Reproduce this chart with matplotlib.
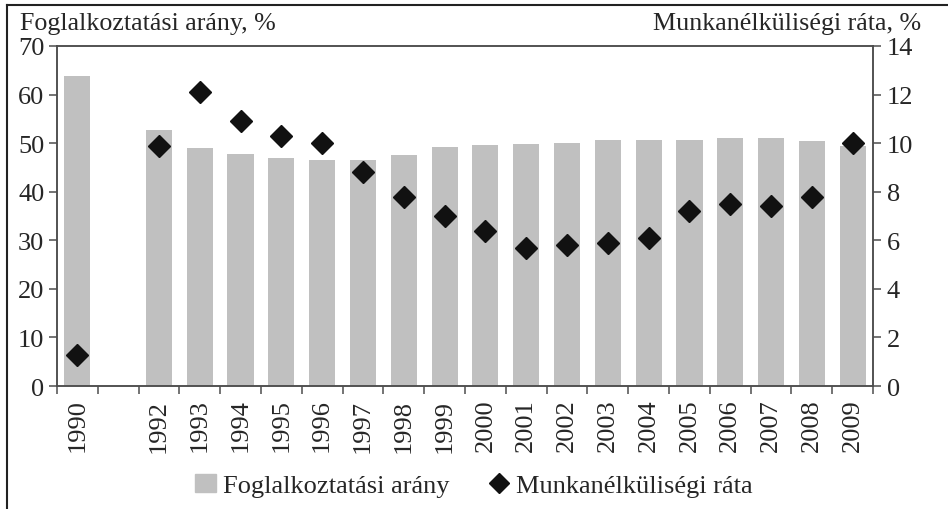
import matplotlib
matplotlib.use('Agg')
import matplotlib.pyplot as plt
from matplotlib.lines import Line2D
import numpy as np

# years 1990-2009, 1991 has no data
years = [str(y) for y in range(1990, 2010)]
year_labels = ['1990', ''] + [str(y) for y in range(1992, 2010)]
employment = [63.8, np.nan, 52.6, 49.0, 47.8, 46.9, 46.6, 46.5, 47.5, 49.1,
              49.7, 49.9, 50.1, 50.6, 50.6, 50.6, 51.1, 51.1, 50.4, 49.4]
unemployment = [1.3, np.nan, 9.9, 12.1, 10.9, 10.3, 10.0, 8.8, 7.8, 7.0,
                6.4, 5.7, 5.8, 5.9, 6.1, 7.2, 7.5, 7.4, 7.8, 10.0]

plt.rcParams['font.family'] = ['Liberation Serif', 'DejaVu Serif']
text_color = '#262626'
spine_color = '#4d4d4d'

fig = plt.figure(figsize=(9.48, 5.10), dpi=100)
ax = fig.add_axes([0.060, 0.241, 0.861, 0.667])
ax2 = ax.twinx()

x = np.arange(len(years))
ax.bar(x, employment, width=0.64, color='#c0c0c0', zorder=2)
ax2.plot(x, unemployment, linestyle='none', marker='D', markersize=11.5,
         color='#111111', zorder=3)

ax.set_xlim(-0.5, len(years) - 0.5)
ax.set_ylim(0, 70)
ax2.set_ylim(0, 14)
ax.set_yticks(range(0, 71, 10))
ax2.set_yticks(range(0, 15, 2))

# ticks at category boundaries, labels at centres
ax.set_xticks(np.arange(-0.5, len(years), 1.0))
ax.set_xticklabels([])
ax.set_xticks(x, minor=True)
ax.set_xticklabels(year_labels, minor=True, rotation=90, fontsize=19,
                   color=text_color)
ax.tick_params(axis='x', which='minor', length=0, pad=9)
ax.tick_params(axis='x', which='major', length=6, width=1.1,
               color=spine_color, direction='out')
ax.tick_params(axis='y', length=6, width=1.1, color=spine_color,
               labelsize=19, labelcolor=text_color, pad=3)
ax2.tick_params(axis='y', length=6, width=1.1, color=spine_color,
                labelsize=19, labelcolor=text_color, pad=4)

for a in (ax, ax2):
    for s in a.spines.values():
        s.set_color(spine_color)
        s.set_linewidth(1.1)

fig.text(0.021, 0.952, 'Foglalkoztatási arány, %', fontsize=18.7,
         color=text_color, ha='left', va='center')
fig.text(0.972, 0.952, 'Munkanélküliségi ráta, %', fontsize=18.7,
         color=text_color, ha='right', va='center')

handles = [
    plt.Rectangle((0, 0), 1, 1, color='#c0c0c0'),
    Line2D([], [], linestyle='none', marker='D', markersize=10.5,
           color='#111111'),
]
fig.legend(handles, ['Foglalkoztatási arány', 'Munkanélküliségi ráta'],
           loc='center', bbox_to_anchor=(0.5, 0.046), ncol=2, frameon=False,
           fontsize=19, handlelength=0.8, handletextpad=0.25,
           columnspacing=1.5, labelcolor=text_color)

# outer frame lines (left and top)
fig.add_artist(Line2D([0.007, 0.007], [0, 0.988], color='#222222', lw=1.5))
fig.add_artist(Line2D([0.007, 1.0], [0.988, 0.988], color='#222222', lw=1.5))

fig.savefig('out.png', dpi=100)
